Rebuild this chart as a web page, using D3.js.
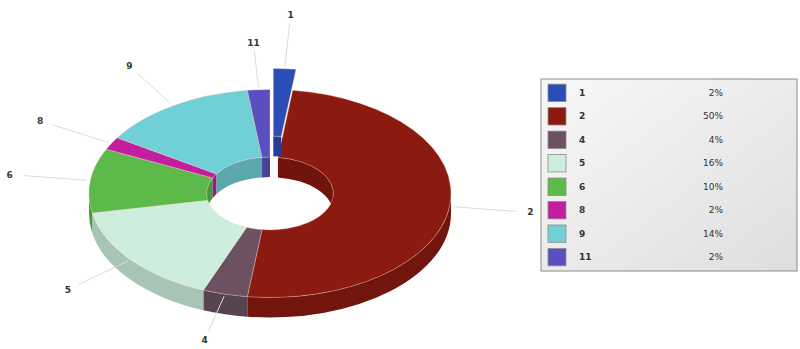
<!DOCTYPE html>
<html>
<head>
<meta charset="utf-8">
<script src="https://cdn.jsdelivr.net/npm/d3@7"></script>
<style>
  body { margin: 0; background: #fff; }
  svg { display: block; }
</style>
</head>
<body>
<div id="chart"></div>
<script>
// chart data
const categories = ["1", "2", "4", "5", "6", "8", "9", "11"];
const values = [2, 50, 4, 16, 10, 2, 14, 2];
const sliceColors = ["#2b4db8", "#8b1a10", "#6b5161", "#cdeedc", "#5cba4a", "#c21fa0", "#70d0d6", "#5a4fc0"];
const explodedCats = ["1"];

const width = 800, height = 349;

// donut geometry (ellipse, seen from above at an angle)
const cx = 270, cy = 193.5;
const rx = 181, ry = 104;
const inner = 0.35;
const depth = 20;
const explode = 21;

const svg = d3.select("#chart").append("svg")
  .attr("width", width)
  .attr("height", height);

const data = categories.map((c, i) => ({ cat: c, value: values[i], color: sliceColors[i] }));

const pie = d3.pie()
  .sort(null)
  .value(d => d.value)
  .startAngle(0)
  .endAngle(2 * Math.PI);

const arcs = pie(data);

// point on ellipse; angle clockwise from 12 o'clock
function pt(a, k, ox, oy, dy) {
  return [cx + ox + rx * k * Math.sin(a), cy + oy + (dy || 0) - ry * k * Math.cos(a)];
}

function offsetOf(d) {
  if (!explodedCats.includes(d.data.cat)) return [0, 0];
  const mid = (d.startAngle + d.endAngle) / 2;
  return [explode * Math.sin(mid) + 2, -explode * Math.cos(mid)];
}

function ellArc(a0, a1, k, ox, oy, dy, sweep) {
  const p = sweep ? pt(a1, k, ox, oy, dy) : pt(a0, k, ox, oy, dy);
  const large = Math.abs(a1 - a0) > Math.PI ? 1 : 0;
  return `A${rx * k},${ry * k} 0 ${large} ${sweep} ${p[0]},${p[1]}`;
}

function topPath(d) {
  const [ox, oy] = offsetOf(d);
  const a0 = d.startAngle, a1 = d.endAngle;
  const s = pt(a0, 1, ox, oy);
  const e = pt(a1, inner, ox, oy);
  return `M${s[0]},${s[1]}` + ellArc(a0, a1, 1, ox, oy, 0, 1) +
    `L${e[0]},${e[1]}` + ellArc(a0, a1, inner, ox, oy, 0, 0) + "Z";
}

function wallPath(a0, a1, k, ox, oy) {
  const s = pt(a0, k, ox, oy);
  const e = pt(a1, k, ox, oy, depth);
  return `M${s[0]},${s[1]}` + ellArc(a0, a1, k, ox, oy, 0, 1) +
    `L${e[0]},${e[1]}` + ellArc(a0, a1, k, ox, oy, depth, 0) + "Z";
}

// outer wall: visible part is the front half (pi/2 .. 3pi/2)
function outerWall(d) {
  const [ox, oy] = offsetOf(d);
  const a0 = Math.max(d.startAngle, Math.PI / 2);
  const a1 = Math.min(d.endAngle, 3 * Math.PI / 2);
  if (a1 <= a0) return null;
  return wallPath(a0, a1, 1, ox, oy);
}

// inner wall: visible part is the back half (3pi/2 .. 2pi and 0 .. pi/2)
function innerWall(d) {
  const [ox, oy] = offsetOf(d);
  const parts = [];
  const r1 = [Math.max(d.startAngle, 0), Math.min(d.endAngle, Math.PI / 2)];
  const r2 = [Math.max(d.startAngle, 3 * Math.PI / 2), Math.min(d.endAngle, 2 * Math.PI)];
  [r1, r2].forEach(r => { if (r[1] > r[0]) parts.push(wallPath(r[0], r[1], inner, ox, oy)); });
  return parts.join("");
}

const normal = arcs.filter(d => !explodedCats.includes(d.data.cat));
const popped = arcs.filter(d => explodedCats.includes(d.data.cat));

function drawSlices(g, list) {
  g.selectAll(null).data(list).join("path")
    .attr("d", innerWall)
    .attr("fill", d => d3.color(d.data.color).darker(0.6));
  g.selectAll(null).data(list.filter(d => outerWall(d))).join("path")
    .attr("d", outerWall)
    .attr("fill", d => d3.color(d.data.color).darker(0.55));
  g.selectAll(null).data(list).join("path")
    .attr("d", topPath)
    .attr("fill", d => d.data.color)
    .attr("stroke", "#ffd0c0")
    .attr("stroke-opacity", 0.45)
    .attr("stroke-width", 0.8)
    .attr("stroke-linejoin", "round");
}

drawSlices(svg.append("g"), normal);
drawSlices(svg.append("g"), popped);

// labels with faint leader lines
const labelK = 1.45;
const labels = svg.append("g");
arcs.forEach(d => {
  const mid = (d.startAngle + d.endAngle) / 2;
  const [ox, oy] = offsetOf(d);
  const k = explodedCats.includes(d.data.cat) ? labelK + 0.07 : labelK;
  const p0 = pt(mid, 1.02, ox, oy);
  const p1 = pt(mid, k - 0.08, ox, oy);
  const lp = pt(mid, k, ox, oy);
  labels.append("line")
    .attr("x1", p0[0]).attr("y1", p0[1])
    .attr("x2", p1[0]).attr("y2", p1[1])
    .attr("stroke", "#dcdcdc")
    .attr("stroke-width", 1);
  labels.append("text")
    .attr("x", lp[0])
    .attr("y", lp[1] + 3)
    .attr("text-anchor", "middle")
    .style("font-family", "DejaVu Sans, sans-serif")
    .style("font-size", "9px")
    .style("font-weight", "bold")
    .style("fill", "#333")
    .text(d.data.cat);
});

// legend
const defs = svg.append("defs");
const grad = defs.append("linearGradient")
  .attr("id", "legendGrad")
  .attr("x1", "0").attr("y1", "0").attr("x2", "1").attr("y2", "1");
grad.append("stop").attr("offset", "0%").attr("stop-color", "#f8f8f8");
grad.append("stop").attr("offset", "100%").attr("stop-color", "#dedede");

const legend = svg.append("g").attr("transform", "translate(541,79)");
legend.append("rect")
  .attr("width", 256)
  .attr("height", 192)
  .attr("fill", "url(#legendGrad)")
  .attr("stroke", "#8a8a8a")
  .attr("stroke-width", 1);

const rowY = d3.scaleBand()
  .domain(categories)
  .range([4, 188])
  .paddingInner(0.26)
  .paddingOuter(0.05);

const total = d3.sum(values);
const rows = legend.selectAll(null).data(data).join("g")
  .attr("transform", d => `translate(0,${rowY(d.cat)})`);

rows.append("rect")
  .attr("x", 7)
  .attr("width", 18)
  .attr("height", rowY.bandwidth())
  .attr("fill", d => d.color)
  .attr("stroke", "#8c8c8c")
  .attr("stroke-width", 0.8);

rows.append("text")
  .attr("x", 38)
  .attr("y", rowY.bandwidth() / 2 + 3)
  .style("font-family", "DejaVu Sans, sans-serif")
  .style("font-size", "9px")
  .style("font-weight", "bold")
  .style("fill", "#333")
  .text(d => d.cat);

rows.append("text")
  .attr("x", 182)
  .attr("y", rowY.bandwidth() / 2 + 3)
  .attr("text-anchor", "end")
  .style("font-family", "DejaVu Sans, sans-serif")
  .style("font-size", "9px")
  .style("fill", "#333")
  .text(d => Math.round(d.value / total * 100) + "%");
</script>
</body>
</html>
